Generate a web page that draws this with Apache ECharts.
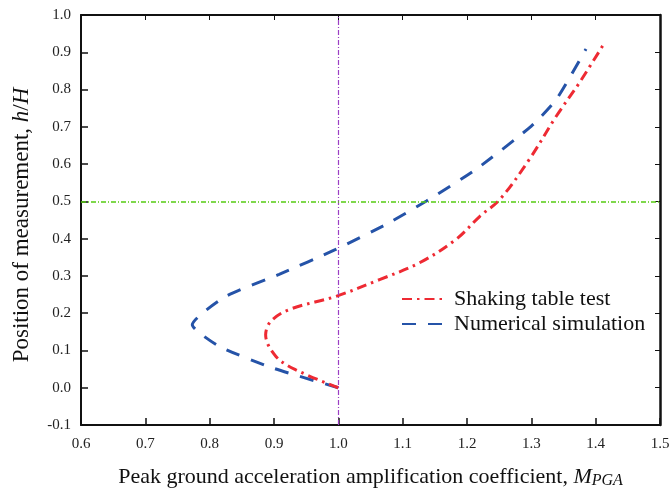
<!DOCTYPE html>
<html>
<head>
<meta charset="utf-8">
<script src="https://cdn.jsdelivr.net/npm/echarts@6/dist/echarts.min.js"></script>
<style>
  html, body { margin: 0; padding: 0; background: #fff; }
  #chart { width: 671px; height: 490px; }
</style>
</head>
<body>
<div id="chart"></div>
<script>
// Amplification coefficient (x) against relative height h/H (y)
const shakingTable = [
  [1.000, 0.000], [0.934, 0.048], [0.903, 0.084], [0.887, 0.142],
  [0.895, 0.178], [0.924, 0.210], [0.996, 0.245], [1.064, 0.290],
  [1.126, 0.335], [1.183, 0.398], [1.220, 0.460], [1.251, 0.505],
  [1.297, 0.613], [1.339, 0.729], [1.375, 0.819], [1.414, 0.926]
];
const numerical = [
  [1.000, 0.000], [0.898, 0.053], [0.815, 0.111], [0.773, 0.169],
  [0.825, 0.245], [0.908, 0.304], [0.996, 0.371], [1.074, 0.438],
  [1.137, 0.501], [1.214, 0.586], [1.300, 0.702], [1.339, 0.774],
  [1.385, 0.909]
];
const seriesNames = ['Shaking table test', 'Numerical simulation'];
const refX = 1.0;   // unit amplification
const refY = 0.5;   // mid-height

const serif = '"Liberation Serif", "Times New Roman", serif';
const chart = echarts.init(document.getElementById('chart'));

const hiddenAxisBits = { axisLabel: { show: false }, splitLine: { show: false } };

chart.setOption({
  animation: false,
  backgroundColor: '#fff',
  grid: { left: 81, right: 11, top: 15, bottom: 65, outerBoundsMode: 'none', containLabel: false },
  legend: {
    orient: 'vertical',
    left: 396,
    top: 283,
    itemWidth: 42,
    itemHeight: 12,
    itemGap: 3,
    itemStyle: { opacity: 0 },
    textStyle: { fontFamily: serif, fontSize: 22, color: '#111', padding: [0, 0, 0, 5] },
    data: seriesNames
  },
  xAxis: [{
    type: 'value', min: 0.6, max: 1.5, interval: 0.1,
    axisLine: { onZero: false, lineStyle: { color: '#111', width: 2 } },
    axisTick: { inside: true, length: 7, lineStyle: { color: '#111', width: 1.5 } },
    axisLabel: { fontFamily: serif, fontSize: 15, color: '#222', margin: 12,
      formatter: v => v.toFixed(1) },
    splitLine: { show: false },
    name: '{n|Peak ground acceleration amplification coefficient, }{i|M}{s|PGA}',
    nameLocation: 'middle', nameGap: 40,
    nameTextStyle: {
      rich: {
        n: { fontFamily: serif, fontSize: 22, color: '#111' },
        i: { fontFamily: serif, fontSize: 22, color: '#111', fontStyle: 'italic' },
        s: { fontFamily: serif, fontSize: 16, color: '#111', fontStyle: 'italic', padding: [8, 0, 0, 0] }
      }
    }
  }, {
    type: 'value', position: 'top', min: 0.6, max: 1.5, interval: 0.1,
    axisLine: { onZero: false, lineStyle: { color: '#111', width: 2 } },
    axisTick: { inside: true, length: 5, lineStyle: { color: '#111', width: 1 } },
    ...hiddenAxisBits
  }],
  yAxis: [{
    type: 'value', min: -0.1, max: 1.0, interval: 0.1,
    axisLine: { show: true, onZero: false, lineStyle: { color: '#111', width: 2 } },
    axisTick: { show: true, inside: true, length: 7, lineStyle: { color: '#111', width: 1.5 } },
    axisLabel: { fontFamily: serif, fontSize: 15, color: '#222', margin: 10,
      formatter: v => v.toFixed(1) },
    splitLine: { show: false },
    name: '{n|Position of measurement, }{i|h}{n|/}{i|H}',
    nameLocation: 'middle', nameGap: 48,
    nameTextStyle: {
      padding: [0, 10, 0, 0],
      rich: {
        n: { fontFamily: serif, fontSize: 23, color: '#111' },
        i: { fontFamily: serif, fontSize: 23, color: '#111', fontStyle: 'italic' }
      }
    }
  }, {
    type: 'value', position: 'right', min: -0.1, max: 1.0, interval: 0.1,
    axisLine: { show: true, onZero: false, lineStyle: { color: '#111', width: 2.5 } },
    axisTick: { show: true, inside: true, length: 5, lineStyle: { color: '#111', width: 1 } },
    ...hiddenAxisBits
  }],
  series: [{
    name: seriesNames[0],
    type: 'line',
    data: shakingTable,
    smooth: 0.35,
    showSymbol: false,
    symbol: 'none',
    color: '#ee2a33',
    lineStyle: { color: '#ee2a33', width: 3, type: [10, 5, 2.5, 5] },
    z: 3
  }, {
    name: seriesNames[1],
    type: 'line',
    data: numerical,
    smooth: 0.2,
    showSymbol: false,
    symbol: 'none',
    color: '#2553a8',
    lineStyle: { color: '#2553a8', width: 3, type: [14, 12] },
    z: 2
  }, {
    // reference lines at unit amplification and mid-height
    type: 'line',
    data: [],
    silent: true,
    z: 1,
    markLine: {
      silent: true,
      symbol: 'none',
      animation: false,
      label: { show: false },
      emphasis: { disabled: true },
      data: [
        { xAxis: refX, lineStyle: { color: '#9b3fc4', width: 1.2, type: [5, 2, 1, 2], opacity: 1 } },
        { yAxis: refY, lineStyle: { color: '#55cc11', width: 1.5, type: [5, 2, 1, 2], opacity: 1 } }
      ]
    }
  }]
});
</script>
</body>
</html>
